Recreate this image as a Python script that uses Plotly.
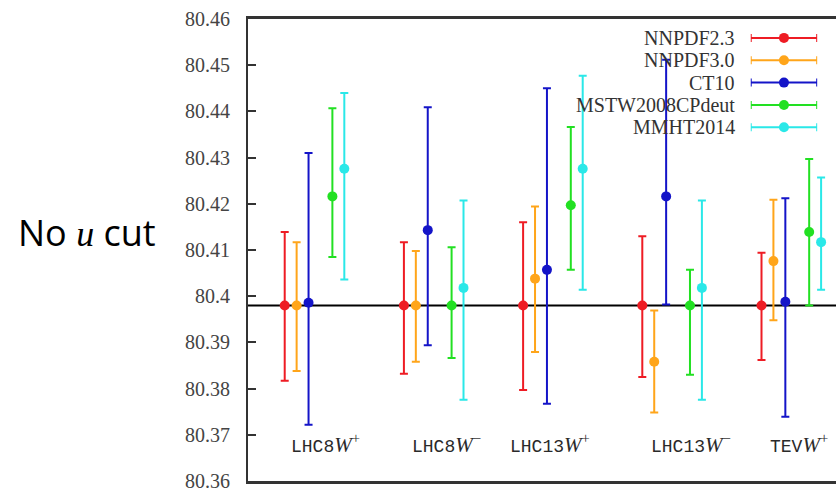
import plotly.graph_objects as go

# ---------------- data ----------------
categories = ["LHC8", "LHC8", "LHC13", "LHC13", "TEV"]
charges = ["+", "−", "+", "−", "+"]
series_names = ["NNPDF2.3", "NNPDF3.0", "CT10", "MSTW2008CPdeut", "MMHT2014"]
series_colors = ["#ee1c24", "#ffa51a", "#1414c8", "#22e022", "#2ae8e8"]

ref_mass = 80.398

nnpdf23_c = [80.398, 80.398, 80.398, 80.398, 80.398]
nnpdf23_hi = [80.4139, 80.4117, 80.4160, 80.4130, 80.4094]
nnpdf23_lo = [80.3817, 80.3832, 80.3797, 80.3825, 80.3862]

nnpdf30_c = [80.398, 80.398, 80.4038, 80.3858, 80.4076]
nnpdf30_hi = [80.4117, 80.4098, 80.4194, 80.3969, 80.4209]
nnpdf30_lo = [80.3838, 80.3858, 80.3879, 80.3748, 80.3948]

ct10_c = [80.3986, 80.4143, 80.4057, 80.4216, 80.3988]
ct10_hi = [80.4310, 80.4409, 80.4450, 80.4512, 80.4212]
ct10_lo = [80.3722, 80.3894, 80.3767, 80.3982, 80.3739]

mstw_c = [80.4216, 80.398, 80.4197, 80.398, 80.4139]
mstw_hi = [80.4407, 80.4106, 80.4366, 80.4057, 80.4297]
mstw_lo = [80.4085, 80.3866, 80.4057, 80.3830, 80.3980]

mmht_c = [80.4276, 80.4018, 80.4276, 80.4018, 80.4117]
mmht_hi = [80.4440, 80.4207, 80.4477, 80.4207, 80.4257]
mmht_lo = [80.4036, 80.3776, 80.4014, 80.3776, 80.4014]

y_tick_vals = [80.36, 80.37, 80.38, 80.39, 80.40, 80.41, 80.42, 80.43, 80.44, 80.45, 80.46]
y_tick_text = ["80.36", "80.37", "80.38", "80.39", "80.4", "80.41", "80.42", "80.43", "80.44", "80.45", "80.46"]

centrals = [nnpdf23_c, nnpdf30_c, ct10_c, mstw_c, mmht_c]
uppers = [nnpdf23_hi, nnpdf30_hi, ct10_hi, mstw_hi, mmht_hi]
lowers = [nnpdf23_lo, nnpdf30_lo, ct10_lo, mstw_lo, mmht_lo]

# ---------------- layout helpers ----------------
offsets = [-0.3, -0.2, -0.1, 0.1, 0.2]
label_shift = [-0.264, -0.249, -0.427, -0.244, -0.246]
serif = "Liberation Serif, serif"

fig = go.Figure()
cat_pos = list(range(1, len(categories) + 1))

for name, col, off, c, hi, lo in zip(series_names, series_colors, offsets, centrals, uppers, lowers):
    fig.add_trace(go.Scatter(
        x=[p + off for p in cat_pos], y=c, mode="markers", name=name,
        marker=dict(color=col, size=10, symbol="circle"),
        error_y=dict(type="data", symmetric=False,
                     array=[h - v for h, v in zip(hi, c)],
                     arrayminus=[v - l for l, v in zip(lo, c)],
                     color=col, thickness=2, width=4),
        showlegend=False, xaxis="x", yaxis="y"))

# legend samples (on a small hidden axis pair)
for i, (name, col) in enumerate(zip(series_names, series_colors)):
    fig.add_trace(go.Scatter(
        x=[0], y=[i], mode="markers",
        marker=dict(color=col, size=10),
        error_x=dict(type="constant", value=1, color=col, thickness=2, width=4),
        showlegend=False, xaxis="x2", yaxis="y2", hoverinfo="skip"))
    fig.add_annotation(x=-1, y=i, xref="x2", yref="y2", text=name, showarrow=False,
                       xanchor="right", yanchor="middle", xshift=-14,
                       font=dict(family=serif, size=20, color="#333333"))

# reference line
fig.add_shape(type="line", xref="paper", yref="y", x0=0, x1=1, y0=ref_mass, y1=ref_mass,
              line=dict(color="black", width=2), layer="below")

# category labels inside the plot
for p, cat, ch, sh in zip(cat_pos, categories, charges, label_shift):
    txt = (f'{cat}<span style="font-family:Liberation Serif;font-size:21px"><i>W</i>'
           f'<sup>{ch}</sup></span>')
    fig.add_annotation(x=p + sh, y=80.3682, xref="x", yref="y", text=txt, showarrow=False,
                       xanchor="left", yanchor="middle",
                       font=dict(family="Liberation Mono", size=18, color="#2a2a2a"))

# side label
fig.add_annotation(x=-0.2738, y=0.5376, xref="paper", yref="paper",
                   text='No <span style="font-family:Liberation Serif"><i>u</i></span> cut',
                   showarrow=False, xanchor="center", yanchor="middle",
                   font=dict(family="Open Sans", size=36, color="black"))

fig.update_layout(
    width=836, height=492,
    margin=dict(l=248, r=0, t=19, b=8),
    paper_bgcolor="white", plot_bgcolor="white",
    font=dict(family=serif, size=20, color="#444444"),
    xaxis=dict(range=[0.392, 5.325], showgrid=False, zeroline=False,
               showticklabels=False, ticks="", showline=True, linecolor="#333333",
               linewidth=2.5, mirror=True),
    yaxis=dict(range=[80.36, 80.46], tickmode="array", tickvals=y_tick_vals, ticktext=y_tick_text,
               showgrid=False, zeroline=False, ticks="inside", ticklen=8, tickwidth=1.5,
               tickcolor="#333333", showline=True, linecolor="#333333", linewidth=2,
               mirror=False, ticklabelstandoff=12, ticklabeloverflow="allow",
               tickfont=dict(family=serif, size=20, color="#444444")),
    xaxis2=dict(domain=[0.855, 0.968], range=[-1, 1], visible=False, anchor="y2"),
    yaxis2=dict(domain=[0.7414, 0.9833], range=[4.5, -0.5], visible=False, anchor="x2"),
)

fig.write_html("out.html")
